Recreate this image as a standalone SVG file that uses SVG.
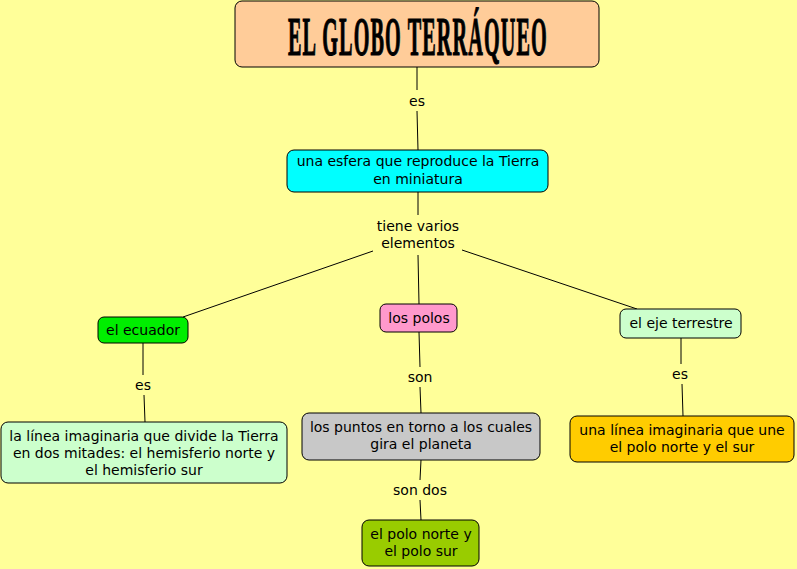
<svg xmlns="http://www.w3.org/2000/svg" width="797" height="569" viewBox="0 0 797 569">
<style>
.n{stroke:#000;stroke-width:1}
.t{font-family:"DejaVu Sans",Verdana,sans-serif;font-size:14px;fill:#000;text-anchor:middle}
.c line{stroke:#000;stroke-width:1}
.ttl{font-family:"Liberation Serif","DejaVu Serif",serif;font-weight:bold;font-size:54px;fill:#000;stroke:#000;stroke-width:1.2;letter-spacing:3px}
</style>
<rect width="797" height="569" fill="#FFFF99"/>
<g class="c" id="connectors">
<line x1="417" y1="67" x2="417" y2="90"/>
<line x1="417" y1="111" x2="418" y2="150"/>
<line x1="418" y1="192" x2="418" y2="215"/>
<line x1="373" y1="251" x2="183" y2="317"/>
<line x1="418" y1="255" x2="419" y2="304"/>
<line x1="462" y1="250" x2="637" y2="309"/>
<line x1="143" y1="343" x2="143" y2="375"/>
<line x1="144" y1="395" x2="145" y2="422"/>
<line x1="419" y1="332" x2="420" y2="367"/>
<line x1="420" y1="387" x2="421" y2="413"/>
<line x1="421" y1="460" x2="420" y2="480"/>
<line x1="420" y1="500" x2="421" y2="520"/>
<line x1="681" y1="338" x2="681" y2="364"/>
<line x1="682" y1="384" x2="683" y2="416"/>
<text class="t" x="417" y="106">es</text>
<text class="t" x="418" y="231">tiene varios</text>
<text class="t" x="418" y="248">elementos</text>
<text class="t" x="143" y="390">es</text>
<text class="t" x="420" y="382">son</text>
<text class="t" x="420" y="495">son dos</text>
<text class="t" x="680" y="379">es</text>
</g>
<g id="title">
<rect class="n" x="235" y="1" width="364" height="66" rx="7" fill="#FFCC99"/>
<text class="ttl" transform="translate(288,55) scale(0.374,1)" x="0" y="0">EL GLOBO TERRÁQUEO</text>
</g>
<g id="esfera">
<rect class="n" x="287" y="150" width="261" height="42" rx="7" fill="#00FFFF"/>
<text class="t" x="418" y="166">una esfera que reproduce la Tierra</text>
<text class="t" x="418" y="184">en miniatura</text>
</g>
<g id="ecuador">
<rect class="n" x="98" y="317" width="90" height="26" rx="6" fill="#00EE00"/>
<text class="t" x="143" y="335">el ecuador</text>
</g>
<g id="polos">
<rect class="n" x="380" y="304" width="77" height="28" rx="6" fill="#FF99CC"/>
<text class="t" x="419" y="323">los polos</text>
</g>
<g id="eje">
<rect class="n" x="620" y="309" width="121" height="29" rx="6" fill="#CCFFCC"/>
<text class="t" x="681" y="328">el eje terrestre</text>
</g>
<g id="linea-ecuador">
<rect class="n" x="1" y="422" width="286" height="61" rx="7" fill="#CCFFCC"/>
<text class="t" x="144" y="441">la línea imaginaria que divide la Tierra</text>
<text class="t" x="144" y="458">en dos mitades: el hemisferio norte y</text>
<text class="t" x="144" y="475">el hemisferio sur</text>
</g>
<g id="puntos">
<rect class="n" x="302" y="413" width="238" height="47" rx="7" fill="#C8C8C8"/>
<text class="t" x="421" y="432">los puntos en torno a los cuales</text>
<text class="t" x="421" y="449">gira el planeta</text>
</g>
<g id="polo-norte-sur">
<rect class="n" x="362" y="520" width="117" height="46" rx="7" fill="#99CC00"/>
<text class="t" x="421" y="539">el polo norte y</text>
<text class="t" x="421" y="556">el polo sur</text>
</g>
<g id="linea-eje">
<rect class="n" x="570" y="416" width="224" height="46" rx="7" fill="#FFCC00"/>
<text class="t" x="682" y="435">una línea imaginaria que une</text>
<text class="t" x="682" y="452">el polo norte y el sur</text>
</g>
</svg>
